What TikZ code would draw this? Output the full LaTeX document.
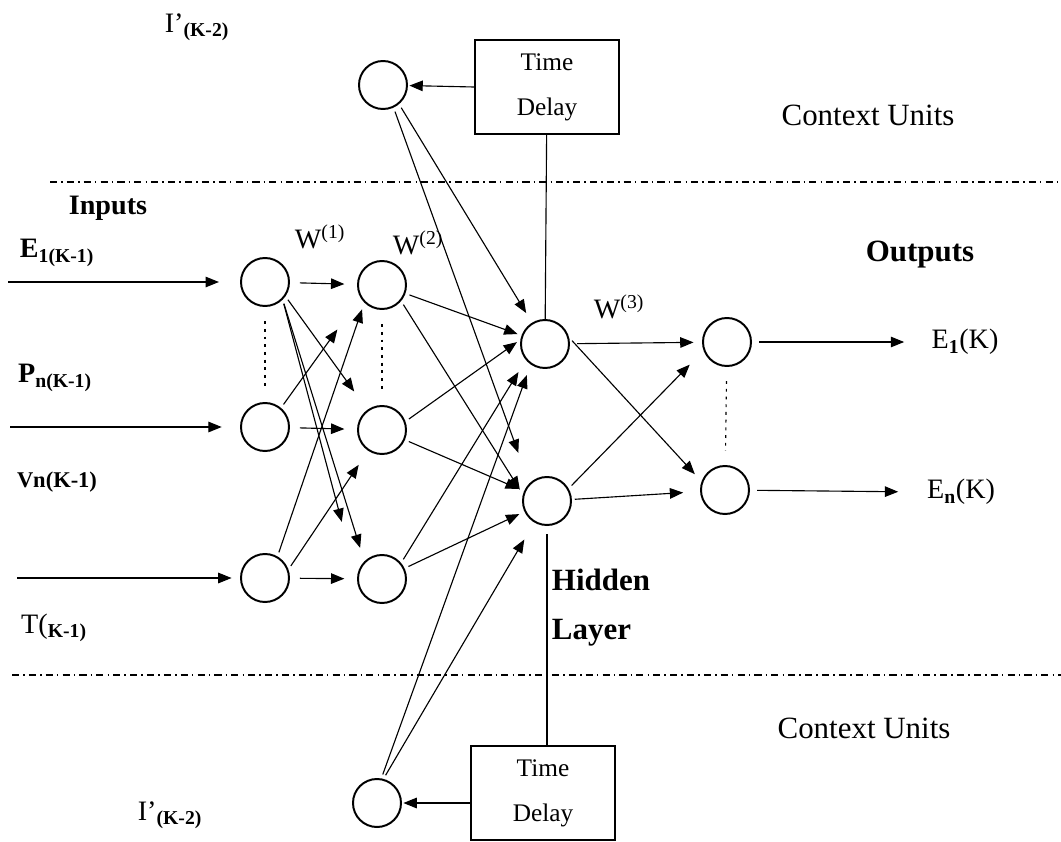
\documentclass[tikz,border=0pt]{standalone}
\usepackage{fontspec}
\setmainfont{Liberation Serif}
\usetikzlibrary{arrows.meta}

\begin{document}
\begin{tikzpicture}[x=0.025cm, y=-0.025cm, every node/.style={align=center},
  neuron/.style={circle, draw, line width=1.4pt, minimum size=1.2cm, inner sep=0pt},
  delaybox/.style={draw, line width=1.1pt, minimum width=3.6cm, minimum height=2.35cm,
    inner sep=0pt, font=\fontsize{18}{32}\selectfont},
  arr/.style={-{Triangle[length=9.5pt,width=7.5pt]}, line width=0.8pt, shorten <=3pt, shorten >=#1},
  arr/.default=4pt,
  wire/.style={line width=0.8pt},
  sep/.style={line width=0.9pt, dash pattern=on 5pt off 3pt on 1pt off 3pt},
  dots/.style={line width=0.8pt, dash pattern=on 2pt off 3.5pt, shorten <=10pt, shorten >=10pt},
  lbl/.style={font=\fontsize{20}{24}\selectfont},
  txt/.style={font=\fontsize{22}{26}\selectfont},
  hdr/.style={font=\fontsize{22}{26}\selectfont\bfseries}]
  \useasboundingbox (0,0) rectangle (1061,842);

  \node[neuron] (I1) at (265,282) {};
  \node[neuron] (I2) at (265,427) {};
  \node[neuron] (I3) at (265,578) {};
  \node[neuron] (H1) at (382,285) {};
  \node[neuron] (H2) at (382,430) {};
  \node[neuron] (H3) at (382,579) {};
  \node[neuron] (J1) at (545,344) {};
  \node[neuron] (J2) at (547,501) {};
  \node[neuron] (O1) at (727,342) {};
  \node[neuron] (O2) at (725,490) {};
  \node[neuron] (C1) at (383,85) {};
  \node[neuron] (C2) at (377,803) {};
  \node[delaybox] (TD1) at (547,87) {Time\\Delay};
  \node[delaybox] (TD2) at (543,793) {Time\\Delay};

  \node[lbl] (ctop) at (197,27) {I'\textsubscript{\textbf{(K-2)}}};
  \node[lbl] (cbot) at (170,815) {I'\textsubscript{\textbf{(K-2)}}};
  \node[txt] (ctxt) at (868,115) {Context Units};
  \node[txt] (ctxb) at (864,728) {Context Units};
  \node[lbl] (inp) at (108,208) {\textbf{Inputs}};
  \node[hdr] (outp) at (920,255) {Outputs};
  \node[lbl] (lE) at (57,253) {\textbf{E\textsubscript{1(K-1)}}};
  \node[lbl] (lP) at (55,378) {\textbf{P\textsubscript{n(K-1)}}};
  \node[font=\fontsize{16}{19}\selectfont\bfseries] (lV) at (57,482) {Vn(K-1)};
  \node[lbl] (lT) at (54,628) {T(\textsubscript{\textbf{K-1)}}};
  \node[lbl] (w1) at (320,237) {W\textsuperscript{(1)}};
  \node[lbl] (w2) at (418,243) {W\textsuperscript{(2)}};
  \node[lbl] (w3) at (619,307) {W\textsuperscript{(3)}};
  \node[hdr, anchor=west] (hid) at (547,580) {Hidden};
  \node[hdr, anchor=west] (lay) at (547,633) {Layer};
  \node[lbl] (E1K) at (965,342) {E\textsubscript{\textbf{1}}(K)};
  \node[lbl] (EnK) at (961,492) {E\textsubscript{\textbf{n}}(K)};

  \coordinate (srcE) at (8,282);
  \coordinate (srcV) at (10,427);
  \coordinate (srcT) at (17,578);

  \draw[sep] (50,182) -- (1061,182);
  \draw[sep] (12,675) -- (1061,675);
  \draw[dots] (I1) -- (I2);
  \draw[dots] (H1) -- (H2);
  \draw[dots] (O1) -- (O2);

  \draw[arr=15pt, shorten <=0pt] (srcE) -- (I1);
  \draw[arr=13pt, shorten <=0pt] (srcV) -- (I2);
  \draw[arr=6pt, shorten <=0pt] (srcT) -- (I3);

  \draw[arr=9pt, shorten <=7pt] (I1) -- (H1);
  \draw[arr=16pt] (I1.-35) -- (H2);
  \draw[arr=42pt] (I1.-45) -- (H3.west);
  \draw[arr=10pt] (I1.-45) -- (H3.135);
  \draw[arr=28pt] (I2.50) -- (H1.210);
  \draw[arr=9pt, shorten <=7pt] (I2) -- (H2);
  \draw[arr=5pt] (I3.60) -- (H1.225);
  \draw[arr=12pt] (I3.20) -- (H2);
  \draw[arr=9pt, shorten <=7pt] (I3) -- (H3);

  \draw[arr=3pt] (H1) -- (J1);
  \draw[arr=4pt] (H1.-40) -- (J2.165);
  \draw[arr=3pt] (H2.20) -- (J1.170);
  \draw[arr] (H2) -- (J2);
  \draw[arr=10pt] (H3.40) -- (J1.220);
  \draw[arr] (H3) -- (J2);
  \draw[arr=8pt] (C1.-50) -- (J1);
  \draw[arr=23pt] (C1.-65) -- (J2.135);
  \draw[arr=8pt] (C2.80) -- (J1.235);
  \draw[arr=14pt] (C2.75) -- (J2);

  \draw[arr=6pt, shorten <=5pt] (J1) -- (O1);
  \draw[arr=7pt] (J1.15) -- (O2.160);
  \draw[arr=14pt] (J2.30) -- (O1.200);
  \draw[arr=12pt, shorten <=2pt] (J2) -- (O2);
  \draw[arr=16pt, shorten <=5pt] (O1) -- (E1K.west);
  \draw[arr=17pt, shorten <=5pt] (O2) -- (EnK.west);

  \draw[arr=1pt, shorten <=0pt] (TD1.west) -- (C1);
  \draw[arr=1pt, shorten <=0pt] (C2 -| TD2.west) -- (C2);
  \draw[wire] (TD1) -- (J1);
  \draw[wire, shorten <=6pt] (J2) -- (J2 |- TD2.north);
\end{tikzpicture}
\end{document}
